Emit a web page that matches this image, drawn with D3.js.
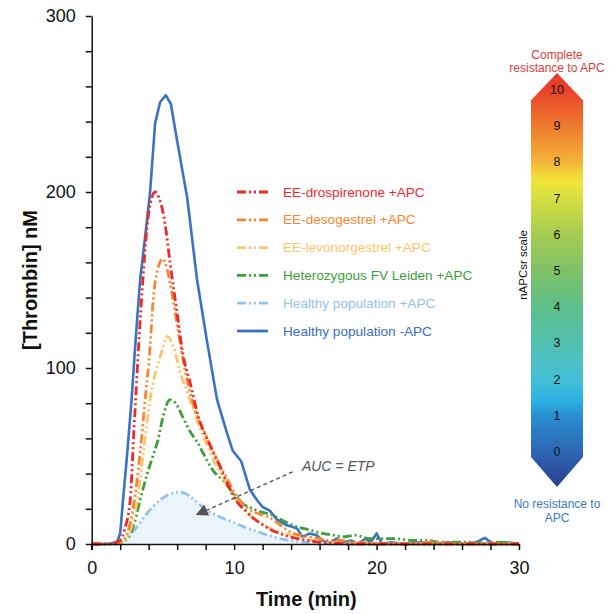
<!DOCTYPE html>
<html><head><meta charset="utf-8">
<script src="https://cdn.jsdelivr.net/npm/d3@7"></script>
<style>
html,body{margin:0;padding:0;background:#fff;}
text{font-family:"Liberation Sans",Arial,sans-serif;}
</style></head>
<body><svg id="chart" width="612" height="614"></svg>
<script>
// ---------- data ----------
const seriesNames = ["EE-drospirenone +APC","EE-desogestrel +APC","EE-levonorgestrel +APC","Heterozygous FV Leiden +APC","Healthy population +APC","Healthy population -APC"];
const seriesColors = ["#ec2a2a","#f5862f","#fdc66a","#3d9f3c","#93c3ea","#3b72c2"];

const drospT = [0,1,1.5,2,2.3,2.7,3.0,3.5,4.0,4.45,4.8,5.15,5.5,6.0,6.4,6.9,7.5,8.2,9.0,9.6,10.2,10.8,11.3,12.0,12.6,13.2,13.9,14.5,15.2,16,17,18,20,22,25,28,30];
const drospY = [0,0,0.5,2,8,25,70,139,188,200,195,182,160,131,108,92,72,58,44,33,24,19,15,11,8,6,4,3,2,1,0.5,0,0,0,0,0,0];

const desoT = [0,1,1.5,2,2.5,3.0,3.4,3.75,4.1,4.3,4.6,5.0,5.3,5.6,6.05,6.7,7.3,8.0,8.8,9.5,10.2,11,11.8,12.5,13.2,13.9,14.6,15.3,16,16.8,17.5,18.5,20,22,24,26,28,30];
const desoY = [0,0,0,1,6,25,52,82,112,137,155,162,156,144,122,93,75,62,48,37,27,20,17,15,11,7,5,4,3,2,2,1,0.5,0,1,0,0,0];

const levoT = [0,1.5,2,2.5,3.2,3.6,4.1,4.5,4.8,5.3,5.7,6.2,6.9,7.4,8.0,8.7,9.4,10.2,11,11.8,12.5,13.5,14.5,15.5,16.5,18,20,25,30];
const levoY = [0,0,0.5,4,25,50,82,98,106,118,113,98,82,70,58,45,35,24,17,12,9,6,4,2,1,0.5,0,0,0];

const fvlT = [0,1.5,2,2.5,3,3.4,3.9,4.3,4.65,5.0,5.5,5.9,6.4,6.9,7.4,7.8,8.5,9.35,10,10.6,11.3,12,12.5,13.5,14.3,15.3,16.2,17,17.6,18.5,19.5,20.5,21.4,22.5,23.5,24.5,25.5,26.5,27.5,28.5,29.5,30];
const fvlY = [0,0,0.5,3,12,25,40,50,59,72,82,80,72,64,58,52,42,35,28,23,20,18,17,13,10,8,6,5,4,5,3,3,3,2,2,1,1,1,0.5,1,0.5,0];

const healthyApcT = [0,1.5,2,2.5,3,3.9,4.8,5.4,6.0,6.5,6.9,7.5,8.1,8.6,9.2,9.9,10.6,11.3,12,12.6,13.2,14,15,16,17,18,20,22,25,28,30];
const healthyApcY = [0,0,1,4,8,17.6,25,28,29.5,29,27,23,19,17,14.6,12.5,10,8,6,4.5,3,2,1,0.5,0,0,0,0,0,0,0];

const healthyT = [0,0.5,1,1.5,1.8,2.0,2.2,2.5,2.8,3.1,3.4,3.8,4.1,4.45,4.8,5.2,5.56,6.0,6.7,7.4,8.1,8.8,9.5,9.9,10.5,11.1,11.6,12.0,12.5,13.0,13.6,14.0,14.4,14.8,15.3,15.8,16.2,16.7,17.2,17.7,18.2,18.7,19.2,19.6,20.0,20.4,21,22,23,24,25,26,27,27.6,28.2,29,30];
const healthyY = [0,0,0,0.5,1.5,6,25,52,82,118,150,178,200,239,251,255,250,229,197,150,115,82,63,53,47,31,25,21,19,14,11,10,9,4,6,5,2,0.5,3,1,2,0,3,1,6,0,1,0,1,0,1,0,1,3.5,0,1,0];

const xTicks = [0,2,4,6,8,10,12,14,16,18,20,22,24,26,28,30];
const xLabels = [0,10,20,30];
const yTicks = [0,20,40,60,80,100,120,140,160,180,200,220,240,260,280,300];
const yLabels = [0,100,200,300];
const cbValues = [0,1,2,3,4,5,6,7,8,9,10];
const cbStops = [[-0.97,"#2b3f8f"],[0,"#2d66b3"],[1,"#2a8fd0"],[1.4,"#2ab0e2"],[2,"#44bfd8"],[3,"#52c0b0"],[4,"#5dbf8a"],[5,"#7fc167"],[6,"#a5cc52"],[7,"#d5df40"],[7.5,"#f3e53a"],[8,"#f4b63a"],[9,"#ef7a2e"],[10,"#e8432a"],[10.47,"#e43a2c"]];

// ---------- layout ----------
const svg = d3.select("#chart");
const x = d3.scaleLinear().domain([0,30]).range([91.7,519]);
const y = d3.scaleLinear().domain([0,300]).range([544,16]);

const series = [
  {t:drospT,v:drospY},{t:desoT,v:desoY},{t:levoT,v:levoY},
  {t:fvlT,v:fvlY},{t:healthyApcT,v:healthyApcY},{t:healthyT,v:healthyY}
].map((s,i)=>({name:seriesNames[i],color:seriesColors[i],pts:s.t.map((t,j)=>[t,s.v[j]])}));

// area under healthy +APC
svg.append("path")
  .datum(series[4].pts)
  .attr("fill","#eaf4fb")
  .attr("d",d3.area().x(d=>x(d[0])).y0(y(0)).y1(d=>y(d[1])).curve(d3.curveMonotoneX));

const dash = "9,3,2,3,2,3";
const order = [5,4,3,2,1,0];
order.forEach(i=>{
  const s = series[i];
  svg.append("path").datum(s.pts)
    .attr("fill","none")
    .attr("stroke",s.color)
    .attr("stroke-width", i===5?2.6:2.8)
    .attr("stroke-dasharray", i===5?null:dash)
    .attr("stroke-linejoin","round")
    .attr("d",d3.line().x(d=>x(d[0])).y(d=>y(d[1])).curve(i===5?d3.curveLinear:d3.curveMonotoneX));
});

// axes
const fmtY = d => yLabels.includes(d)? d : "";
const fmtX = d => xLabels.includes(d)? d : "";
const yAxis = svg.append("g").attr("transform",`translate(${x(0)},0)`)
  .call(d3.axisLeft(y).tickValues(yTicks).tickFormat(fmtY).tickSize(6).tickSizeOuter(0).tickPadding(10));
const xAxis = svg.append("g").attr("transform",`translate(0,${y(0)})`)
  .call(d3.axisBottom(x).tickValues(xTicks).tickFormat(fmtX).tickSize(6).tickSizeOuter(0).tickPadding(11));
[yAxis,xAxis].forEach(g=>{
  g.selectAll("path,line").attr("stroke","#111").attr("stroke-width",1.5);
  g.selectAll("text").attr("font-size",18).attr("fill","#111").attr("font-family","Liberation Sans, Arial");
});
svg.append("line").attr("x1",x(0)).attr("x2",x(0)).attr("y1",y(0)).attr("y2",y(0)+6).attr("stroke","#111").attr("stroke-width",1.5);

// axis titles
svg.append("text").attr("transform",`translate(32,${(y(0)+y(300))/2}) rotate(-90)`)
  .attr("text-anchor","middle").attr("dominant-baseline","middle")
  .attr("font-size",20).attr("font-weight","bold").attr("fill","#111").text("[Thrombin] nM");
svg.append("text").attr("x",(x(0)+x(30))/2+1).attr("y",606)
  .attr("text-anchor","middle").attr("font-size",20).attr("font-weight","bold").attr("fill","#111").text("Time (min)");

// legend
const legY0 = 192, legStep = 27.8;
series.forEach((s,i)=>{
  const ly = legY0 + i*legStep;
  svg.append("line").attr("x1",237).attr("x2",268).attr("y1",ly).attr("y2",ly)
    .attr("stroke",s.color).attr("stroke-width",2.8)
    .attr("stroke-dasharray", i===5?null:dash);
  svg.append("text").attr("x",283).attr("y",ly).attr("dominant-baseline","central")
    .attr("font-size",13.6).attr("fill", i===5?"#3a6ec0":s.color).text(s.name);
});

// AUC annotation
svg.append("line").attr("x1",x(14.1)).attr("y1",y(41)).attr("x2",x(7.9)).attr("y2",y(18.5))
  .attr("stroke","#555").attr("stroke-width",1.4).attr("stroke-dasharray","4,3");
(function(){
  const tx=x(7.3), ty=y(16.5);
  const ang=Math.atan2(y(41)-ty, x(14.1)-tx);
  const L=12, W=6;
  const bx=tx+L*Math.cos(ang), by=ty+L*Math.sin(ang);
  const px=-Math.sin(ang)*W, py=Math.cos(ang)*W;
  svg.append("path").attr("d",`M${tx},${ty}L${bx+px},${by+py}L${bx-px},${by-py}Z`).attr("fill","#555");
})();
svg.append("text").attr("x",x(14.76)).attr("y",y(44.3)).attr("dominant-baseline","central")
  .attr("font-size",14).attr("font-style","italic").attr("fill","#555").text("AUC = ETP");

// colour bar
const cb = d3.scaleLinear().domain([0,10]).range([452,90]);
const cx = 557, hw = 26;
const defs = svg.append("defs");
const grad = defs.append("linearGradient").attr("id","cbgrad").attr("gradientUnits","userSpaceOnUse")
  .attr("x1",0).attr("x2",0).attr("y1",cb(-0.97)).attr("y2",cb(10.47));
cbStops.forEach(s=>grad.append("stop").attr("offset",(s[0]+0.97)/(10.47+0.97)).attr("stop-color",s[1]));
svg.append("path")
  .attr("d",`M${cx},${cb(10.47)}L${cx+hw},${cb(9.72)}L${cx+hw},${cb(-0.14)}L${cx},${cb(-0.97)}L${cx-hw},${cb(-0.14)}L${cx-hw},${cb(9.72)}Z`)
  .attr("fill","url(#cbgrad)");
svg.append("g").selectAll("text").data(cbValues).join("text")
  .attr("x",cx).attr("y",d=>cb(d)).attr("text-anchor","middle").attr("dominant-baseline","central")
  .attr("font-size",12.5).attr("fill","#111").text(d=>d);
svg.append("text").attr("transform",`translate(523,265) rotate(-90)`)
  .attr("text-anchor","middle").attr("dominant-baseline","central")
  .attr("font-size",11.5).attr("fill","#111").text("nAPCsr scale");
[["Complete",55],["resistance to APC",68]].forEach(d=>{
  svg.append("text").attr("x",cx).attr("y",d[1]).attr("text-anchor","middle").attr("dominant-baseline","central")
    .attr("font-size",12).attr("fill","#d5413a").text(d[0]);
});
[["No resistance to",504],["APC",518]].forEach(d=>{
  svg.append("text").attr("x",cx).attr("y",d[1]).attr("text-anchor","middle").attr("dominant-baseline","central")
    .attr("font-size",12).attr("fill","#3a78c8").text(d[0]);
});
</script></body></html>
